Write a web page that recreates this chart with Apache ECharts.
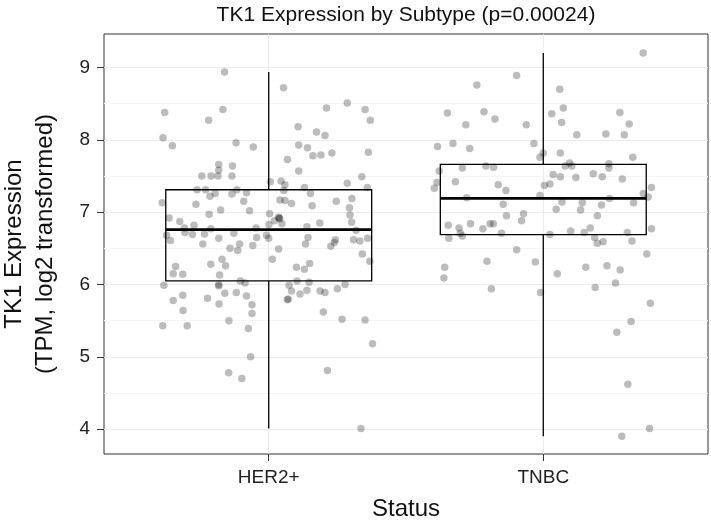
<!DOCTYPE html>
<html>
<head>
<meta charset="utf-8">
<script src="https://cdn.jsdelivr.net/npm/echarts@6/dist/echarts.min.js"></script>
<style>
  html, body { margin: 0; padding: 0; background: #fff; }
  #main { width: 711px; height: 524px; }
</style>
</head>
<body>
<div id="main"></div>
<script>
// groups on the x axis
const categories = ['HER2+', 'TNBC']
const yTicks = [4, 5, 6, 7, 8, 9]
const yMinorTicks = [4.5, 5.5, 6.5, 7.5, 8.5]

// box stats: min, q1, median, q3, max
const her2Box = [4.01, 6.05, 6.76, 7.31, 8.94]
const tnbcBox = [3.90, 6.69, 7.19, 7.66, 9.20]

// jittered samples (offset from group centre, value)
const her2Jitter = [
  -0.161, 0.054, -0.379, -0.167, -0.219, 0.210, 0.286, 0.351, 0.370, 0.107,
  0.174, 0.205, -0.385, -0.351, -0.119, -0.056, 0.109, 0.141, 0.161, 0.190,
  0.230, 0.363, 0.068, -0.182, -0.132, -0.182, 0.109, -0.244, -0.210, -0.185,
  -0.134, 0.339, 0.006, 0.045, 0.059, 0.286, 0.130, 0.359, -0.261, -0.230,
  -0.195, -0.214, -0.134, -0.116, -0.081, 0.055, 0.152, 0.303, -0.388, -0.265,
  -0.091, 0.041, 0.059, 0.083, 0.158, 0.246, 0.294, -0.175, -0.070, -0.217,
  0.003, 0.296, -0.363, -0.324, 0.036, 0.038, 0.040, 0.021, 0.048, 0.001,
  -0.272, 0.186, 0.302, -0.307, -0.305, -0.278, -0.211, -0.046, 0.139, 0.318,
  -0.372, -0.358, -0.234, -0.182, -0.127, -0.044, -0.008, 0.000, 0.143, 0.243,
  0.239, 0.226, 0.309, 0.332, 0.360, -0.240, -0.106, -0.058, 0.134, -0.141,
  -0.113, 0.036, 0.341, -0.170, 0.013, 0.368, -0.211, -0.157, -0.339, -0.348,
  -0.313, -0.179, 0.101, 0.130, 0.149, -0.103, -0.086, -0.182, -0.182, -0.382,
  0.074, 0.103, 0.147, 0.278, 0.250, 0.187, 0.205, 0.083, 0.114, 0.139,
  -0.348, -0.313, -0.223, -0.160, -0.118, -0.081, 0.068, 0.071, -0.181, -0.061,
  -0.312, -0.061, 0.199, -0.386, -0.297, -0.145, -0.074, 0.267, 0.351, 0.378,
  -0.066, -0.146, -0.098, 0.214, 0.336
]
const her2Values = [
  8.94, 8.72, 8.38, 8.42, 8.27, 8.44, 8.51, 8.42, 8.27, 8.18,
  8.11, 8.06, 8.03, 7.92, 7.96, 7.90, 7.93, 7.89, 7.78, 7.79,
  7.82, 7.83, 7.73, 7.66, 7.64, 7.58, 7.57, 7.50, 7.50, 7.50,
  7.50, 7.49, 7.42, 7.43, 7.38, 7.40, 7.34, 7.34, 7.31, 7.31,
  7.26, 7.22, 7.25, 7.31, 7.27, 7.30, 7.26, 7.19, 7.13, 7.11,
  7.15, 7.17, 7.16, 7.12, 7.09, 7.15, 7.06, 7.03, 7.02, 6.97,
  6.98, 6.96, 6.92, 6.87, 6.93, 6.92, 6.91, 6.88, 6.84, 6.83,
  6.82, 6.85, 6.86, 6.78, 6.72, 6.69, 6.77, 6.78, 6.80, 6.75,
  6.68, 6.61, 6.70, 6.64, 6.71, 6.65, 6.68, 6.64, 6.65, 6.62,
  6.58, 6.53, 6.62, 6.60, 6.64, 6.56, 6.56, 6.54, 6.56, 6.50,
  6.47, 6.49, 6.42, 6.35, 6.35, 6.32, 6.28, 6.26, 6.25, 6.15,
  6.14, 6.13, 6.24, 6.21, 6.29, 6.05, 6.02, 6.00, 5.98, 5.99,
  5.99, 6.05, 6.03, 6.00, 5.94, 5.91, 5.89, 5.91, 5.87, 5.92,
  5.78, 5.85, 5.81, 5.88, 5.89, 5.84, 5.79, 5.80, 5.73, 5.72,
  5.64, 5.60, 5.62, 5.43, 5.43, 5.50, 5.39, 5.52, 5.51, 5.18,
  5.00, 4.78, 4.70, 4.81, 4.01
]

const tnbcJitter = [
  0.364, -0.097, -0.242, 0.060, -0.349, -0.216, -0.176, -0.282, -0.062, 0.031,
  0.073, 0.067, 0.279, 0.313, 0.122, 0.228, 0.295, -0.385, -0.329, -0.268,
  -0.034, 0.000, -0.012, 0.062, 0.326, 0.096, 0.080, 0.104, 0.239, 0.239,
  -0.295, -0.209, -0.181, -0.379, 0.036, 0.062, 0.119, 0.182, 0.215, 0.288,
  -0.320, -0.387, -0.397, -0.164, -0.136, 0.004, 0.024, 0.364, 0.394, 0.382,
  -0.279, -0.012, 0.241, 0.329, -0.146, 0.068, 0.142, 0.212, 0.047, 0.136,
  -0.134, -0.072, 0.197, -0.079, -0.346, -0.307, -0.265, -0.194, -0.182, -0.220,
  0.171, 0.100, 0.149, 0.306, 0.394, -0.302, -0.295, -0.152, 0.024, -0.344,
  0.187, 0.197, 0.218, 0.323, -0.097, 0.377, -0.205, -0.029, -0.359, -0.362,
  0.051, 0.155, 0.232, 0.280, 0.263, 0.189, -0.189, -0.010, 0.390, 0.320,
  0.268, 0.308, 0.387, 0.286
]
const tnbcValues = [
  9.20, 8.89, 8.76, 8.70, 8.37, 8.39, 8.29, 8.21, 8.21, 8.36,
  8.44, 8.24, 8.38, 8.22, 8.07, 8.08, 8.07, 7.91, 7.95, 7.88,
  7.95, 7.82, 7.76, 7.82, 7.76, 7.68, 7.64, 7.64, 7.67, 7.61,
  7.61, 7.64, 7.62, 7.57, 7.52, 7.49, 7.48, 7.53, 7.49, 7.46,
  7.42, 7.41, 7.33, 7.38, 7.30, 7.37, 7.39, 7.26, 7.34, 7.21,
  7.20, 7.23, 7.19, 7.13, 7.11, 7.14, 7.13, 7.10, 7.04, 7.03,
  6.95, 6.98, 6.95, 6.88, 6.82, 6.78, 6.84, 6.84, 6.84, 6.77,
  6.78, 6.74, 6.72, 6.72, 6.77, 6.71, 6.67, 6.71, 6.69, 6.64,
  6.65, 6.57, 6.59, 6.60, 6.48, 6.42, 6.32, 6.31, 6.24, 6.09,
  6.15, 6.24, 6.26, 6.20, 6.02, 5.96, 5.94, 5.89, 5.74, 5.49,
  5.34, 4.62, 4.01, 3.90
]

const textFont = '"Liberation Sans", Arial, Helvetica, sans-serif'

const points = []
her2Values.forEach((v, i) => points.push([1 + her2Jitter[i], v]))
tnbcValues.forEach((v, i) => points.push([2 + tnbcJitter[i], v]))

const boxes = [[1].concat(her2Box), [2].concat(tnbcBox)]
const boxHalf = 0.375

const chart = echarts.init(document.getElementById('main'))

chart.setOption({
  animation: false,
  backgroundColor: '#fff',
  textStyle: { fontFamily: textFont },
  grid: {
    left: 104, right: 3, top: 34, bottom: 70,
    outerBoundsMode: 'none', containLabel: false,
    show: true, borderColor: '#333', borderWidth: 1, backgroundColor: '#fff'
  },
  graphic: [{
    type: 'text', x: 406, y: 15,
    style: {
      text: 'TK1 Expression by Subtype (p=0.00024)',
      fill: '#111', font: '21px ' + textFont,
      textAlign: 'center', textVerticalAlign: 'middle'
    }
  }],
  xAxis: {
    type: 'value', min: 0.4, max: 2.6,
    name: 'Status', nameLocation: 'middle', nameGap: 43,
    nameTextStyle: { fontSize: 24, color: '#111' },
    axisLine: { show: false },
    axisTick: { show: true, length: 7, customValues: [1, 2], lineStyle: { color: '#333' } },
    axisLabel: {
      customValues: [1, 2], margin: 14, fontSize: 19, color: '#222',
      formatter: v => categories[Math.round(v) - 1] || ''
    },
    splitLine: { show: true, lineStyle: { color: '#ebebeb', width: 1 } }
  },
  yAxis: [{
    type: 'value', min: 3.656, max: 9.464,
    name: 'TK1 Expression\n(TPM, log2 transformed)',
    nameLocation: 'middle', nameRotate: 90, nameGap: 43,
    nameTextStyle: { fontSize: 24, color: '#111', lineHeight: 31, align: 'center' },
    axisLine: { show: false },
    axisTick: { show: true, length: 7, customValues: yTicks, lineStyle: { color: '#333' } },
    axisLabel: { customValues: yTicks, margin: 14, fontSize: 19, color: '#222' },
    splitLine: { show: true, lineStyle: { color: '#ebebeb', width: 1 } }
  }, {
    type: 'value', min: 3.656, max: 9.464, position: 'right',
    axisLine: { show: false },
    axisTick: { show: false, customValues: yMinorTicks },
    axisLabel: { show: false, customValues: yMinorTicks },
    splitLine: { show: true, lineStyle: { color: '#f4f4f4', width: 1 } }
  }],
  series: [
    {
      type: 'scatter',
      data: points,
      symbolSize: 7.5,
      itemStyle: { color: 'rgba(0,0,0,0.33)' },
      z: 2
    },
    {
      type: 'custom',
      data: boxes,
      z: 3,
      renderItem: (params, api) => {
        const x = api.value(0)
        const lo = api.coord([x, api.value(1)])
        const q1 = api.coord([x - boxHalf, api.value(2)])
        const med = api.coord([x - boxHalf, api.value(3)])
        const q3 = api.coord([x - boxHalf, api.value(4)])
        const hi = api.coord([x, api.value(5)])
        const right = api.coord([x + boxHalf, api.value(3)])[0]
        const cx = lo[0]
        const stroke = { stroke: '#000', lineWidth: 1.3, fill: null }
        return {
          type: 'group',
          children: [
            { type: 'line', shape: { x1: cx, y1: hi[1], x2: cx, y2: q3[1] }, style: stroke },
            { type: 'line', shape: { x1: cx, y1: q1[1], x2: cx, y2: lo[1] }, style: stroke },
            { type: 'rect', shape: { x: q3[0], y: q3[1], width: right - q3[0], height: q1[1] - q3[1] }, style: stroke },
            { type: 'line', shape: { x1: med[0], y1: med[1], x2: right, y2: med[1] }, style: { stroke: '#000', lineWidth: 2.8 } }
          ]
        }
      }
    }
  ]
})
</script>
</body>
</html>
